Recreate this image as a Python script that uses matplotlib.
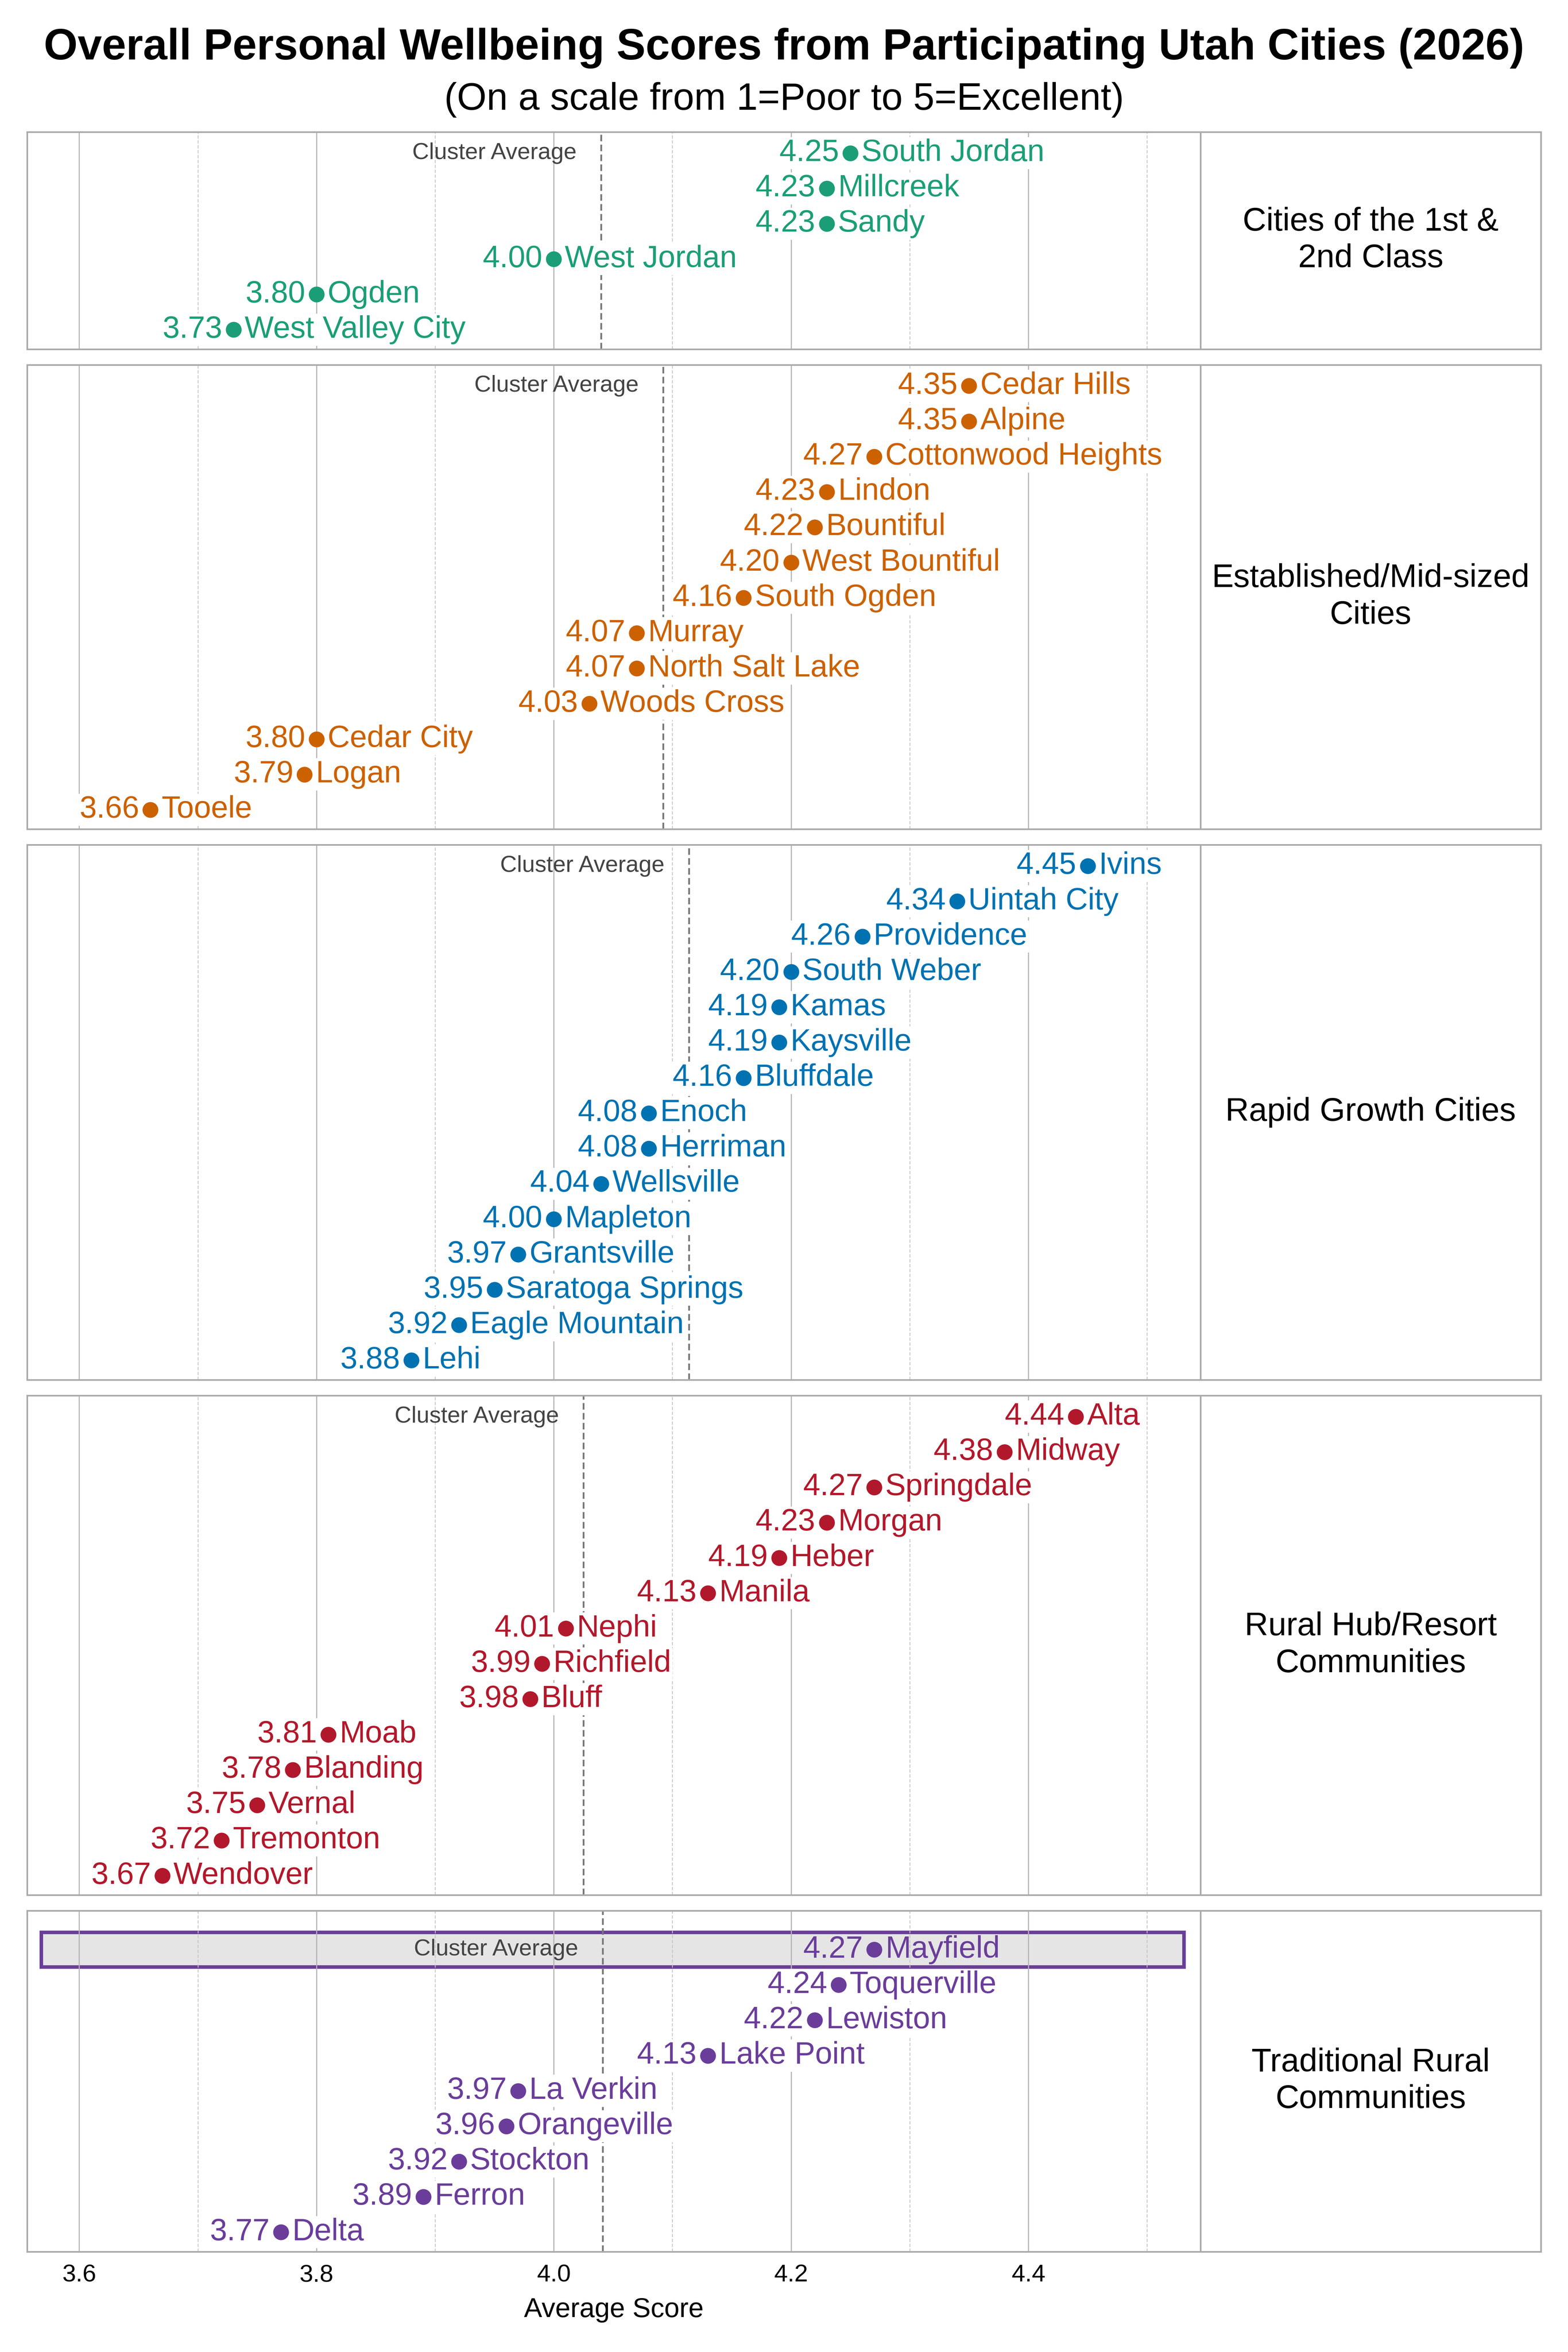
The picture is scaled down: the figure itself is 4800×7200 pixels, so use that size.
import numpy as np
import matplotlib
matplotlib.use('Agg')
import matplotlib.pyplot as plt
from matplotlib.gridspec import GridSpec
from matplotlib.patches import Rectangle

plt.rcParams['font.family'] = ['Liberation Sans', 'DejaVu Sans']

# data, top row to bottom row in each cluster
cluster_names = ['Cities of the 1st &\n2nd Class', 'Established/Mid-sized\nCities',
                 'Rapid Growth Cities', 'Rural Hub/Resort\nCommunities',
                 'Traditional Rural\nCommunities']
cluster_colors = ['#1b9e77', '#cc6100', '#0072b2', '#b2182b', '#6a3d9a']

cities_1 = ['South Jordan', 'Millcreek', 'Sandy', 'West Jordan', 'Ogden', 'West Valley City']
scores_1 = [4.25, 4.23, 4.23, 4.00, 3.80, 3.73]

cities_2 = ['Cedar Hills', 'Alpine', 'Cottonwood Heights', 'Lindon', 'Bountiful',
            'West Bountiful', 'South Ogden', 'Murray', 'North Salt Lake', 'Woods Cross',
            'Cedar City', 'Logan', 'Tooele']
scores_2 = [4.35, 4.35, 4.27, 4.23, 4.22, 4.20, 4.16, 4.07, 4.07, 4.03, 3.80, 3.79, 3.66]

cities_3 = ['Ivins', 'Uintah City', 'Providence', 'South Weber', 'Kamas', 'Kaysville',
            'Bluffdale', 'Enoch', 'Herriman', 'Wellsville', 'Mapleton', 'Grantsville',
            'Saratoga Springs', 'Eagle Mountain', 'Lehi']
scores_3 = [4.45, 4.34, 4.26, 4.20, 4.19, 4.19, 4.16, 4.08, 4.08, 4.04, 4.00, 3.97,
            3.95, 3.92, 3.88]

cities_4 = ['Alta', 'Midway', 'Springdale', 'Morgan', 'Heber', 'Manila', 'Nephi',
            'Richfield', 'Bluff', 'Moab', 'Blanding', 'Vernal', 'Tremonton', 'Wendover']
scores_4 = [4.44, 4.38, 4.27, 4.23, 4.19, 4.13, 4.01, 3.99, 3.98, 3.81, 3.78, 3.75,
            3.72, 3.67]

cities_5 = ['Mayfield', 'Toquerville', 'Lewiston', 'Lake Point', 'La Verkin',
            'Orangeville', 'Stockton', 'Ferron', 'Delta']
scores_5 = [4.27, 4.24, 4.22, 4.13, 3.97, 3.96, 3.92, 3.89, 3.77]

highlight_city = 'Mayfield'

all_cities = [cities_1, cities_2, cities_3, cities_4, cities_5]
all_scores = [scores_1, scores_2, scores_3, scores_4, scores_5]

flat = np.concatenate([np.array(s) for s in all_scores])
xmin, xmax = flat.min() - 0.104, flat.max() + 0.095

top_pad, bot_pad = 0.6, 0.55
pads = []
for cities in all_cities:
    tp = 1.1 if highlight_city in cities else top_pad
    pads.append(tp)
spans = [len(c) - 1 + tp + bot_pad for c, tp in zip(all_cities, pads)]

fig = plt.figure(figsize=(8, 12), dpi=600)
gs = GridSpec(5, 2, figure=fig, left=0.0172, right=0.9828, top=0.9439, bottom=0.0427,
              width_ratios=[782, 227], height_ratios=spans, hspace=0.038, wspace=0)

spine_col = '#aaaaaa'
for k in range(5):
    ax = fig.add_subplot(gs[k, 0])
    lab = fig.add_subplot(gs[k, 1])
    cities = all_cities[k]
    scores = np.array(all_scores[k])
    col = cluster_colors[k]
    n = len(cities)
    ys = np.arange(n)[::-1]

    ax.set_xlim(xmin, xmax)
    ax.set_ylim(-bot_pad, n - 1 + pads[k])
    ax.set_xticks([3.6, 3.8, 4.0, 4.2, 4.4])
    ax.set_xticks([3.7, 3.9, 4.1, 4.3, 4.5], minor=True)
    ax.set_yticks([])
    ax.set_axisbelow(True)
    ax.grid(True, which='major', axis='x', color='#b4b4b4', lw=0.4)
    ax.grid(True, which='minor', axis='x', color='#c4c4c4', lw=0.3, ls=(0, (4, 2)))
    ax.tick_params(axis='x', which='both', length=0, labelsize=9, pad=4.5)
    if k < 4:
        ax.tick_params(axis='x', labelbottom=False)
    else:
        ax.set_xlabel('Average Score', fontsize=10, labelpad=4)
    for sp in ax.spines.values():
        sp.set_color(spine_col)
        sp.set_linewidth(0.6)

    avg = scores.mean()
    ax.axvline(avg, color='#777777', lw=0.65, ls=(0, (3.7, 1.9)), zorder=1.5)
    ax.annotate('Cluster Average', (avg, n - 1), xytext=(-9, 0), textcoords='offset points',
                ha='right', va='center', fontsize=8.5, color='#444444', zorder=3)

    ax.plot(scores, ys, 'o', color=col, ms=5.8, mec='none', zorder=4)
    for name, s, y in zip(cities, scores, ys):
        bb = dict(boxstyle='square,pad=0.05', fc='white', ec='none')
        if name == highlight_city:
            ax.add_patch(Rectangle((0.012, y - 0.49), 0.974, 0.98,
                                   transform=ax.get_yaxis_transform(),
                                   fc='#e5e5e5', ec=col, lw=1.3, zorder=0.2))
            bb = None
        ax.annotate(f'{s:.2f}', (s, y), xytext=(-4.1, 0), textcoords='offset points',
                    ha='right', va='center', fontsize=11.3, color=col, bbox=bb, zorder=3)
        ax.annotate(name, (s, y), xytext=(4.1, 0), textcoords='offset points',
                    ha='left', va='center', fontsize=11.3, color=col, bbox=bb, zorder=3)

    lab.set_xticks([])
    lab.set_yticks([])
    for sp in lab.spines.values():
        sp.set_color(spine_col)
        sp.set_linewidth(0.6)
    lab.text(0.5, 0.5, cluster_names[k], ha='center', va='center', fontsize=12,
             linespacing=1.25, transform=lab.transAxes)

fig.text(0.5, 0.9795, 'Overall Personal Wellbeing Scores from Participating Utah Cities (2026)',
         ha='center', va='center', fontsize=16, fontweight='bold')
fig.text(0.5, 0.9575, '(On a scale from 1=Poor to 5=Excellent)',
         ha='center', va='center', fontsize=14)

fig.savefig('out.png', dpi=600, facecolor='white')
